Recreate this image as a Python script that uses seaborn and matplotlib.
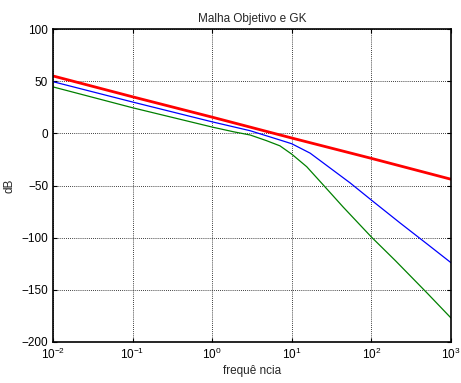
import matplotlib
matplotlib.use("Agg")
import matplotlib.pyplot as plt
import seaborn as sns
import pandas as pd
from matplotlib.ticker import LogLocator, NullLocator, FixedLocator

sns.set_style("white")
plt.rcParams['font.family'] = ['Liberation Sans', 'DejaVu Sans']

# data
freq_red = [0.01, 0.1, 1, 10, 100, 1000]
db_red = [55, 35, 15.5, -4.5, -24, -44]

freq_blue = [0.01, 0.1, 1, 3, 7.1, 10, 17, 30, 54, 100, 230, 500, 1000]
db_blue = [49.5, 30, 11, 2.5, -6.4, -10, -19, -33, -47.5, -64, -86, -106, -124]

freq_green = [0.01, 0.1, 1, 1.85, 3, 4.8, 7.1, 10, 15.4, 25, 44, 100, 200, 500, 1000]
db_green = [44.5, 24.5, 6, 1.5, -1.6, -7, -12, -20, -32, -49.7, -70.5, -99.4, -122, -153, -177]

title = "Malha Objetivo e GK"
xlabel = "frequê ncia"
ylabel = "dB"
yticks = [-200, -150, -100, -50, 0, 50, 100]

fig = plt.figure(figsize=(4.61, 3.83), dpi=100)
ax = fig.add_axes([53/461, 1-342/383, (451-53)/461, (342-29)/383])

df_r = pd.DataFrame({"f": freq_red, "db": db_red})
df_b = pd.DataFrame({"f": freq_blue, "db": db_blue})
df_g = pd.DataFrame({"f": freq_green, "db": db_green})

sns.lineplot(data=df_g, x="f", y="db", ax=ax, color="#008000", linewidth=0.9, sort=False)
sns.lineplot(data=df_b, x="f", y="db", ax=ax, color="#0000ff", linewidth=0.9, sort=False)
sns.lineplot(data=df_r, x="f", y="db", ax=ax, color="#ff0000", linewidth=2.0, sort=False)

ax.set_xscale("log")
ax.set_xlim(1e-2, 1e3)
ax.set_ylim(-200, 100)
ax.xaxis.set_major_locator(LogLocator(base=10, numticks=10))
ax.xaxis.set_minor_locator(NullLocator())
ax.yaxis.set_major_locator(FixedLocator(yticks))

ax.grid(True, which="major", color="black", linestyle=(0, (1, 1.5)), linewidth=0.6)
ax.tick_params(direction="in", length=3, width=0.8, labelsize=8.5, colors="black",
               top=True, right=True, bottom=True, left=True)
for s in ax.spines.values():
    s.set_linewidth(1.2)
    s.set_color("black")

ax.set_title(title, fontsize=8.5, pad=5)
ax.set_xlabel(xlabel, fontsize=8.5, labelpad=2)
ax.set_ylabel(ylabel, fontsize=8.5, labelpad=4)

fig.savefig("out.png", dpi=100)
